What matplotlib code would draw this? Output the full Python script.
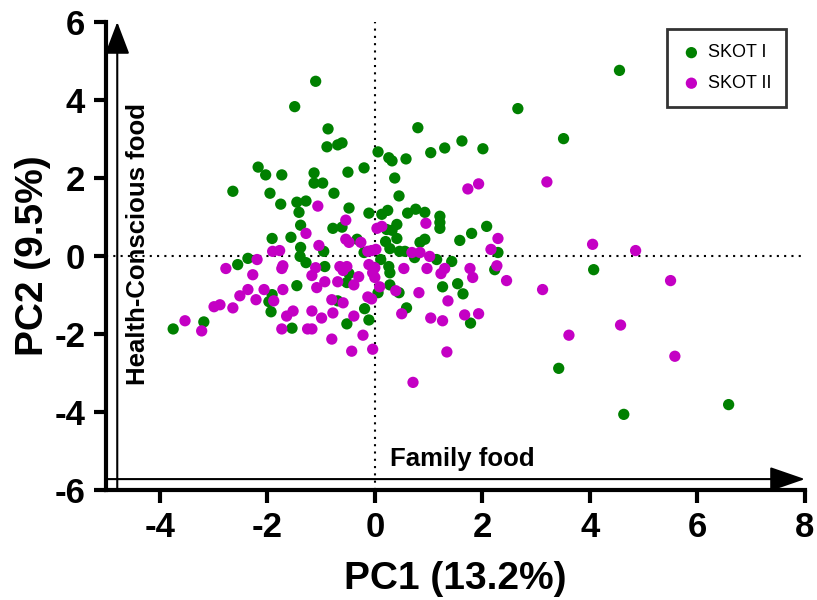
import matplotlib
matplotlib.use("Agg")
import matplotlib.pyplot as plt

plt.rcParams['font.family'] = ['Liberation Sans', 'DejaVu Sans']
plt.rcParams['axes.unicode_minus'] = False

# SKOT I (green)
skot1_x = [-1.10, -1.49, -0.87, -0.89, -0.69, -0.61, 0.80, 0.06, 0.26, 0.32,
           0.58, 1.04, 1.30, 1.62, 2.01, 2.66, 3.51, 4.55, -2.17, -2.03,
           -1.73, -1.13, -1.13, -0.97, -0.50, -0.20, -2.64, -1.95, -0.76, 0.37,
           0.45, -1.75, -1.45, -1.28, -1.41, -0.48, -0.11, 0.13, 0.24, 0.61,
           0.76, 0.93, 1.21, 1.21, 1.21, -1.38, -0.78, -0.61, 0.22, 0.32,
           0.41, -1.91, -1.56, -0.33, 0.41, 0.20, 0.84, 0.93, 1.58, 1.80,
           2.08, -1.38, -1.39, -0.95, -0.20, 0.28, 0.46, 0.56, 2.29, 0.74,
           1.15, 1.43, 0.11, -2.36, -2.55, -1.28, -0.93, 0.26, 0.28, -0.48,
           2.23, 4.07, -0.52, 0.28, 1.26, 1.54, 1.64, -1.45, -1.91, -1.97,
           -1.93, -1.54, -0.69, 0.06, 0.45, -0.19, 0.59, -0.52, -0.11, 1.78,
           -3.18, -3.75, 3.42, 4.63, 6.58]
skot1_y = [4.48, 3.83, 3.26, 2.80, 2.85, 2.90, 3.29, 2.67, 2.52, 2.44,
           2.49, 2.65, 2.77, 2.95, 2.75, 3.78, 3.01, 4.76, 2.28, 2.08,
           2.08, 2.13, 1.87, 1.87, 2.15, 2.26, 1.66, 1.61, 1.61, 2.00,
           1.54, 1.33, 1.38, 1.41, 1.12, 1.23, 1.10, 1.07, 1.17, 1.10,
           1.20, 1.12, 1.02, 0.86, 0.71, 0.79, 0.71, 0.74, 0.68, 0.66,
           0.81, 0.45, 0.48, 0.43, 0.45, 0.37, 0.35, 0.43, 0.40, 0.58,
           0.76, 0.22, -0.01, 0.12, 0.09, 0.19, 0.12, 0.12, 0.09, -0.04,
           -0.09, -0.14, -0.09, -0.06, -0.22, -0.17, -0.27, -0.27, -0.43, -0.45,
           -0.35, -0.35, -0.68, -0.74, -0.79, -0.71, -0.97, -0.76, -0.99, -1.17,
           -1.43, -1.85, -1.15, -0.94, -0.94, -1.35, -1.33, -1.74, -1.64, -1.72,
           -1.69, -1.87, -2.88, -4.06, -3.81]

# SKOT II (magenta)
skot2_x = [1.73, 1.93, 3.20, -1.06, -0.54, 0.95, 0.04, 0.13, -1.28, -0.54,
           -0.48, -0.26, -1.04, 2.29, 2.16, -0.13, -0.06, 0.02, -1.90, -1.77,
           0.69, 0.84, 1.02, -2.19, 4.05, 4.85, -2.77, -2.27, -1.73, -1.71,
           -1.10, -1.17, -0.65, -0.52, -0.59, -0.11, 0.00, -0.04, 0.00, -0.30,
           -0.69, -0.39, 0.54, 0.97, 1.23, 1.30, 1.77, 1.82, 2.27, 2.45,
           3.12, 5.50, -2.36, -2.06, -1.71, -1.08, -0.93, 0.09, 0.39, 0.82,
           -2.51, -2.21, -1.88, -2.99, -2.88, -2.64, -3.53, -3.22, -1.64, -1.52,
           -1.73, -1.25, -1.17, -1.17, -0.99, -0.80, -0.59, -0.13, -0.06, 1.36,
           0.50, -0.78, -0.39, 1.04, 1.26, 1.67, 1.93, -0.22, -0.80, -0.43,
           -0.04, 1.34, 0.71, 3.61, 4.57, 5.58]
skot2_y = [1.72, 1.85, 1.90, 1.28, 0.92, 0.84, 0.71, 0.76, 0.58, 0.43,
           0.35, 0.35, 0.27, 0.45, 0.17, 0.12, 0.14, 0.17, 0.12, 0.14,
           0.09, 0.09, -0.01, -0.09, 0.30, 0.14, -0.32, -0.48, -0.32, -0.25,
           -0.30, -0.50, -0.27, -0.27, -0.37, -0.22, -0.30, -0.43, -0.55, -0.53,
           -0.66, -0.74, -0.32, -0.32, -0.45, -0.32, -0.32, -0.55, -0.25, -0.63,
           -0.86, -0.63, -0.86, -0.86, -0.86, -0.81, -0.66, -0.79, -0.89, -0.94,
           -1.02, -1.12, -1.15, -1.30, -1.25, -1.33, -1.66, -1.92, -1.54, -1.41,
           -1.87, -1.87, -1.87, -1.41, -1.59, -1.12, -1.20, -1.05, -1.10, -1.15,
           -1.48, -1.46, -1.54, -1.59, -1.66, -1.51, -1.48, -2.03, -2.13, -2.44,
           -2.39, -2.46, -3.24, -2.03, -1.77, -2.57]

series_names = ["SKOT I", "SKOT II"]
series_colors = ["#008000", "#c400c4"]
x_ticks = [-4, -2, 0, 2, 4, 6, 8]
y_ticks = [-6, -4, -2, 0, 2, 4, 6]

fig = plt.figure(figsize=(8.17, 6.0), dpi=100)
ax = fig.add_axes([0.1297, 0.1833, 0.8556, 0.78])
ax.set_xlim(-5, 8)
ax.set_ylim(-6, 6)

# dotted reference lines
ax.axvline(0, color='black', lw=1.5, linestyle=(0, (1, 2.5)), zorder=1)
ax.axhline(0, color='black', lw=1.5, linestyle=(0, (1, 2.5)), zorder=1)

ax.scatter(skot1_x, skot1_y, s=66, color=series_colors[0], edgecolors='none',
           label=series_names[0], zorder=3)
ax.scatter(skot2_x, skot2_y, s=66, color=series_colors[1], edgecolors='none',
           label=series_names[1], zorder=3)

# direction arrows
ax.annotate('', xy=(-4.79, 6.0), xytext=(-4.79, -6.0),
            arrowprops=dict(arrowstyle='-|>,head_length=1.0,head_width=0.38',
                            mutation_scale=20, lw=1.5, color='black',
                            shrinkA=0, shrinkB=0), zorder=2)
ax.annotate('', xy=(8.0, -5.72), xytext=(-5.0, -5.72),
            arrowprops=dict(arrowstyle='-|>,head_length=1.1,head_width=0.38',
                            mutation_scale=20, lw=1.5, color='black',
                            shrinkA=0, shrinkB=0), zorder=2)

ax.text(-4.40, 0.3, "Health-Conscious food", rotation=90, ha='center',
        va='center', fontsize=18.5, fontweight='bold')
ax.text(0.28, -5.2, "Family food", ha='left', va='center', fontsize=18.5,
        fontweight='bold')

for side in ['top', 'right']:
    ax.spines[side].set_visible(False)
for side in ['left', 'bottom']:
    ax.spines[side].set_linewidth(3)

ax.set_xticks(x_ticks)
ax.set_yticks(y_ticks)
ax.tick_params(axis='both', direction='out', length=9, width=3,
               labelsize=25, pad=6)
for lab in ax.get_xticklabels() + ax.get_yticklabels():
    lab.set_fontweight('bold')

ax.set_xlabel("PC1 (13.2%)", fontsize=28, fontweight='bold', labelpad=12)
ax.set_ylabel("PC2 (9.5%)", fontsize=28, fontweight='bold', labelpad=2)

leg = ax.legend(loc='upper left', bbox_to_anchor=(0.8026, 0.985),
                borderaxespad=0, fontsize=13, frameon=True, fancybox=False,
                edgecolor='black', handlelength=1.0, handletextpad=0.4,
                borderpad=0.85, labelspacing=0.75, markerscale=1.0)
leg.get_frame().set_linewidth(2)

fig.savefig("out.png", dpi=100)
